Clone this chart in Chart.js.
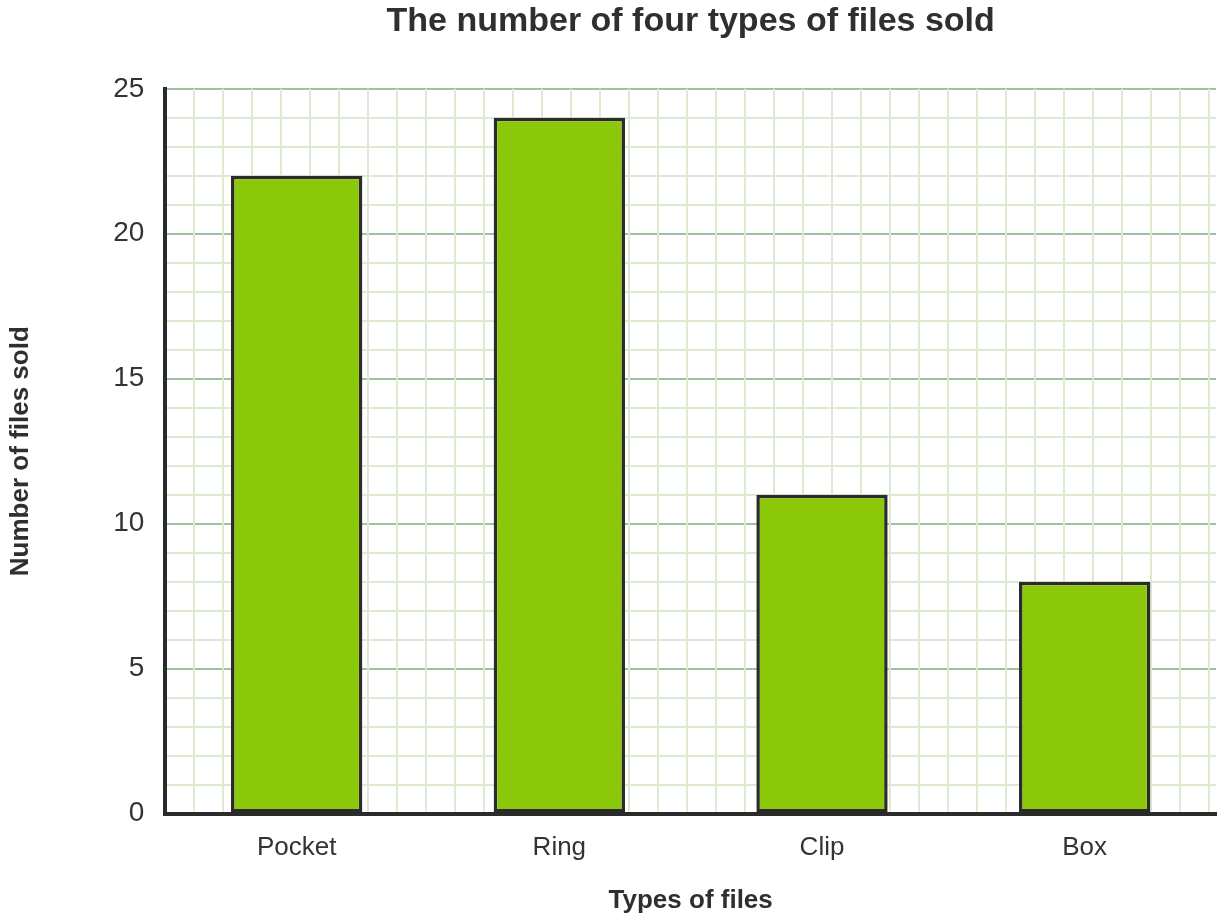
<!DOCTYPE html>
<html>
<head>
<meta charset="utf-8">
<script src="https://cdn.jsdelivr.net/npm/chart.js@4"></script>
<style>
  html, body { margin: 0; padding: 0; background: #fff; }
  #wrap { width: 1224px; height: 922px; }
</style>
</head>
<body>
<div id="wrap"><canvas id="chart"></canvas></div>
<script>
const categories = ["Pocket", "Ring", "Clip", "Box"];
const filesSold = [22, 24, 11, 8];
const yTicks = [0, 5, 10, 15, 20, 25];

// square minor grid: vertical lines spaced one y-unit apart
const squareGrid = {
  id: 'squareGrid',
  beforeDatasetsDraw(chart) {
    const { ctx, chartArea, scales } = chart;
    const step = scales.y.getPixelForValue(0) - scales.y.getPixelForValue(1);
    ctx.save();
    ctx.strokeStyle = '#dcebd0';
    ctx.lineWidth = 2;
    for (let x = chartArea.left + step; x < chartArea.right; x += step) {
      ctx.beginPath();
      ctx.moveTo(Math.round(x), chartArea.top);
      ctx.lineTo(Math.round(x), chartArea.bottom - 2);
      ctx.stroke();
    }
    ctx.restore();
  }
};

new Chart(document.getElementById("chart"), {
  type: 'bar',
  data: {
    labels: categories,
    datasets: [{
      data: filesSold,
      backgroundColor: '#8bc80a',
      borderColor: '#2b2b2b',
      borderWidth: 3.5,
      borderSkipped: false,
      barPercentage: 0.5,
      categoryPercentage: 1
    }]
  },
  options: {
    responsive: true,
    maintainAspectRatio: false,
    animation: false,
    layout: { padding: { top: 1, right: 8, left: 5, bottom: 6 } },
    plugins: {
      legend: { display: false },
      tooltip: { enabled: false },
      title: {
        display: true,
        fullSize: false,
        text: 'The number of four types of files sold',
        color: '#2f2f2f',
        font: { family: 'Liberation Sans', size: 34, weight: 'bold' },
        padding: { top: 0, bottom: 47 }
      }
    },
    scales: {
      x: {
        grid: { display: false },
        border: { color: '#2b2b2b', width: 4 },
        ticks: {
          color: '#333',
          font: { family: 'Liberation Sans', size: 26 },
          padding: 11
        },
        title: {
          display: true,
          text: 'Types of files',
          color: '#2f2f2f',
          font: { family: 'Liberation Sans', size: 26, weight: 'bold' },
          padding: { top: 10, bottom: 0 }
        }
      },
      y: {
        min: 0,
        max: 25,
        afterBuildTicks(axis) {
          axis.ticks = [];
          for (let v = 0; v <= 25; v++) axis.ticks.push({ value: v });
        },
        grid: {
          drawTicks: false,
          lineWidth: 2,
          color: ctx => ctx.tick.value === 0 ? 'rgba(0,0,0,0)'
            : (yTicks.includes(ctx.tick.value) ? '#9ec29c' : '#dcebd0')
        },
        border: { color: '#2b2b2b', width: 4 },
        ticks: {
          autoSkip: false,
          color: '#333',
          font: { family: 'Liberation Sans', size: 28 },
          padding: 21,
          callback: v => yTicks.includes(v) ? String(v) : ''
        },
        title: {
          display: true,
          text: 'Number of files sold',
          color: '#2f2f2f',
          font: { family: 'Liberation Sans', size: 26, weight: 'bold' },
          padding: { top: 0, bottom: 56 }
        }
      }
    }
  },
  plugins: [squareGrid]
});
</script>
</body>
</html>
